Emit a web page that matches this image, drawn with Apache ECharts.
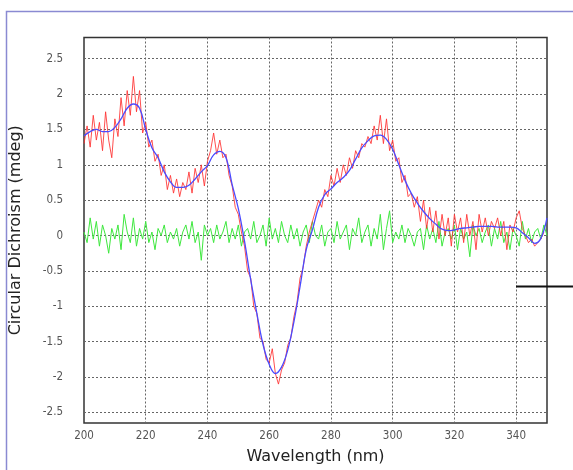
<!DOCTYPE html>
<html><head><meta charset="utf-8">
<script src="https://cdn.jsdelivr.net/npm/echarts@6/dist/echarts.min.js"></script>
<style>html,body{margin:0;padding:0;background:#fff}#c{width:573px;height:470px}</style>
</head><body><div id="c"></div>
<script>
// Wavelength grid
const xTicks = [200, 220, 240, 260, 280, 300, 320, 340];
const yTicks = [-2.5, -2, -1.5, -1, -0.5, 0, 0.5, 1, 1.5, 2, 2.5];

// Raw CD spectrum (red), 1 nm steps from 200 nm
const rawStart = 200;
const rawCD = [
 1.30,1.55,1.25,1.70,1.35,1.60,1.20,1.75,1.35,1.10,
 1.65,1.40,1.95,1.55,2.05,1.70,2.25,1.75,2.05,1.45,
 1.60,1.25,1.35,1.05,1.15,0.85,1.00,0.65,0.85,0.60,
 0.80,0.55,0.75,0.65,0.90,0.60,0.95,0.75,1.00,0.70,
 1.05,1.20,1.45,1.15,1.35,1.10,1.15,0.85,0.70,0.40,
 0.30,0.05,-0.15,-0.50,-0.60,-1.00,-1.10,-1.45,-1.50,-1.75,
 -1.80,-1.60,-1.95,-2.10,-1.90,-1.80,-1.55,-1.45,-1.15,-0.95,
 -0.60,-0.45,-0.15,0.05,0.20,0.35,0.50,0.40,0.65,0.55,
 0.85,0.70,0.95,0.75,1.00,0.85,1.10,0.95,1.20,1.10,
 1.30,1.25,1.40,1.30,1.55,1.35,1.70,1.30,1.65,1.20,
 1.35,1.05,1.10,0.75,0.85,0.55,0.60,0.40,0.55,0.20,
 0.50,0.10,0.40,0.05,0.35,-0.05,0.30,0.00,0.25,-0.15,
 0.30,0.05,0.25,-0.10,0.30,0.00,0.20,-0.20,0.30,0.05,
 0.25,0.00,0.20,0.10,0.25,0.00,0.20,-0.20,0.15,0.05,
 0.25,0.35,0.10,0.00,-0.10,-0.05,-0.15,-0.10,-0.05,0.05
];

// Smoothed CD spectrum (blue), 2 nm steps from 200 nm
const smoothStart = 200;
const smoothCD = [
 1.41,1.47,1.50,1.47,1.47,1.53,1.65,1.80,1.86,1.80,
 1.50,1.24,1.10,0.90,0.76,0.68,0.68,0.71,0.80,0.90,
 0.99,1.14,1.19,1.10,0.72,0.38,-0.08,-0.62,-1.10,-1.54,
 -1.82,-1.95,-1.86,-1.62,-1.22,-0.72,-0.20,0.08,0.40,0.58,
 0.66,0.75,0.82,0.92,1.08,1.24,1.34,1.41,1.42,1.36,
 1.22,1.00,0.78,0.60,0.46,0.34,0.24,0.16,0.09,0.07,
 0.08,0.10,0.11,0.12,0.13,0.13,0.13,0.12,0.12,0.12,
 0.11,0.04,-0.03,-0.11,-0.04,0.25
];

// Residual / noise (green), 1 nm steps from 200 nm
const noiseStart = 200;
const noiseCD = [
 0.05,-0.10,0.25,-0.05,0.20,-0.15,0.15,0.00,-0.25,0.10,
 -0.05,0.15,-0.20,0.30,0.05,-0.10,0.25,-0.15,0.10,-0.05,
 0.20,-0.10,0.05,-0.20,0.10,0.00,0.15,-0.10,0.05,-0.05,
 0.10,-0.15,0.05,0.15,-0.05,0.20,-0.10,0.05,-0.35,0.15,
 0.00,0.10,-0.10,0.15,-0.05,0.05,0.20,-0.10,0.10,-0.05,
 0.15,-0.15,0.05,0.10,-0.05,0.20,-0.10,0.00,0.15,-0.15,
 0.25,-0.05,0.10,-0.10,0.20,0.00,-0.10,0.15,-0.05,0.10,
 -0.15,0.05,0.15,-0.10,0.20,0.00,-0.05,0.15,-0.15,0.05,
 0.10,-0.10,0.20,-0.05,0.05,0.15,-0.20,0.10,0.00,0.25,
 -0.10,0.05,0.15,-0.15,0.10,-0.05,0.30,-0.20,0.10,0.35,
 -0.10,0.05,-0.05,0.15,-0.10,0.10,0.00,-0.15,0.05,0.10,
 -0.20,0.15,-0.05,0.10,-0.10,0.20,-0.15,0.05,0.10,-0.05,
 0.15,-0.20,0.10,-0.05,0.05,-0.30,0.15,0.00,0.10,-0.10,
 0.05,0.15,-0.15,0.10,-0.05,0.20,-0.10,0.05,-0.20,0.10,
 0.00,-0.15,0.20,-0.05,0.10,-0.10,0.05,0.10,-0.05,0.15,0.00
];

function pairs(start, step, arr){ return arr.map((v,i)=>[start+i*step, v]); }

const chart = echarts.init(document.getElementById('c'), null, {renderer:'canvas'});
const labelFont = '"Liberation Sans Narrow","DejaVu Sans Condensed","Liberation Sans",sans-serif';
const nameFont = '"DejaVu Sans","Liberation Sans",sans-serif';
chart.setOption({
  animation:false,
  backgroundColor:'#fff',
  grid:{left:84, right:26, top:37.5, bottom:47, show:true, borderColor:'#333', borderWidth:1.5, backgroundColor:'transparent'},
  xAxis:{
    type:'value', min:200, max:350, interval:20,
    name:'Wavelength (nm)', nameLocation:'middle', nameGap:26,
    nameTextStyle:{fontFamily:nameFont, fontSize:16, color:'#222'},
    axisLine:{show:false}, axisTick:{show:false},
    axisLabel:{margin:7, fontFamily:labelFont, fontSize:11.5, color:'#555', showMaxLabel:false,
      formatter:v=>xTicks.includes(v)?String(v):''},
    splitLine:{show:true, showMinLine:false, showMaxLine:false, lineStyle:{color:'#666', type:[2,2], width:1}}
  },
  yAxis:{
    type:'value', min:-2.65, max:2.8, splitNumber:11,
    name:'Circular Dichroism (mdeg)', nameLocation:'middle', nameGap:60,
    nameTextStyle:{fontFamily:nameFont, fontSize:16, color:'#222'},
    axisLine:{show:false}, axisTick:{show:false},
    axisLabel:{margin:21, fontFamily:labelFont, fontSize:11.5, color:'#555', showMinLabel:false, showMaxLabel:false,
      formatter:v=>{const r=Math.round(v*100)/100; return yTicks.includes(r)?String(r):'';}},
    splitLine:{show:true, showMinLine:false, showMaxLine:false, lineStyle:{color:'#666', type:[2,2], width:1}}
  },
  series:[
    {type:'line', data:pairs(noiseStart,1,noiseCD), symbol:'none', lineStyle:{color:'#3ee83e', width:1}, z:2},
    {type:'line', data:pairs(rawStart,1,rawCD), symbol:'none', lineStyle:{color:'#ff3030', width:1, opacity:0.85}, z:3},
    {type:'line', data:pairs(smoothStart,2,smoothCD), symbol:'none', smooth:0.4, lineStyle:{color:'#4a4aff', width:1.3}, z:4}
  ],
  graphic:[
    {type:'rect', shape:{x:6.5, y:11.5, width:620, height:520}, style:{fill:'none', stroke:'#8a8ad2', lineWidth:1.5}, z:100},
    {type:'line', shape:{x1:516, y1:286.5, x2:573, y2:286.5}, style:{stroke:'#111', lineWidth:2}, z:100}
  ]
});
</script></body></html>
